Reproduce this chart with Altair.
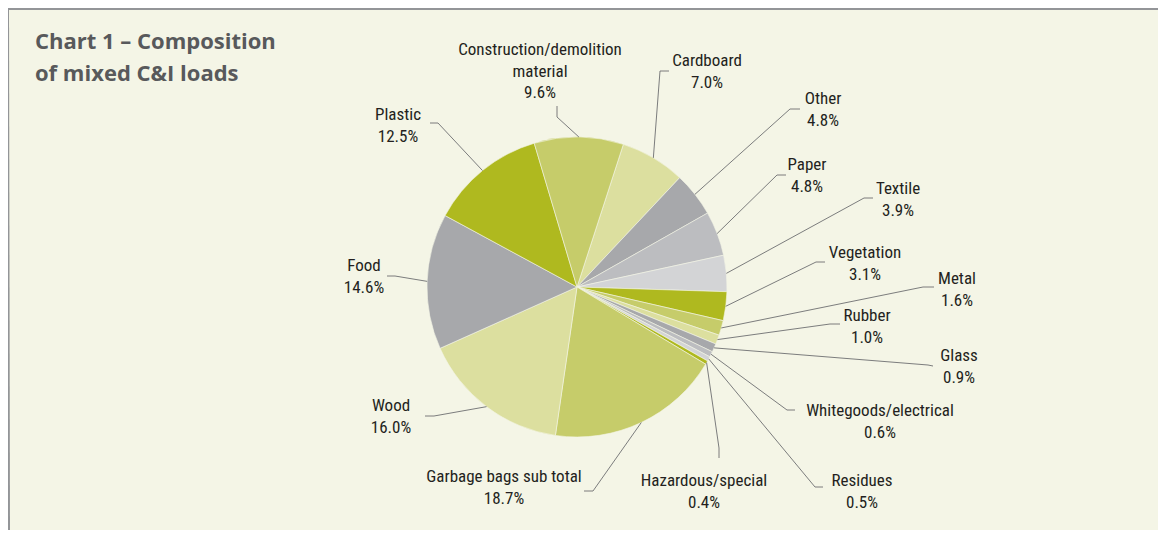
import math
import altair as alt
import pandas as pd

# ---- data ----
names = ["Cardboard", "Other", "Paper", "Textile", "Vegetation", "Metal", "Rubber",
         "Glass", "Whitegoods/electrical", "Residues", "Hazardous/special",
         "Garbage bags sub total", "Wood", "Food", "Plastic",
         "Construction/demolition material"]
values = [7.0, 4.8, 4.8, 3.9, 3.1, 1.6, 1.0, 0.9, 0.6, 0.5, 0.4, 18.7, 16.0, 14.6, 12.5, 9.6]
label_text = [["Cardboard"], ["Other"], ["Paper"], ["Textile"], ["Vegetation"], ["Metal"],
              ["Rubber"], ["Glass"], ["Whitegoods/electrical"], ["Residues"],
              ["Hazardous/special"], ["Garbage bags sub total"], ["Wood"], ["Food"],
              ["Plastic"], ["Construction/demolition", "material"]]
title_lines = ["Chart 1 \u2013 Composition", "of mixed C&I loads"]

# ---- styles / layout ----
colors = ["#dcdf9f", "#a7a8ab", "#bcbdc0", "#d3d4d6", "#afb91f", "#c6cc6a", "#dcdf9f",
          "#a7a8ab", "#bcbdc0", "#d3d4d6", "#afb91f", "#c6cc6a", "#dcdf9f", "#a7a8ab",
          "#afb91f", "#c6cc6a"]
label_x = [707, 823, 807, 898, 865, 957, 867, 959, 880, 862, 704, 504, 391, 364, 398, 540]
label_y = [61, 99, 165, 189, 253, 279, 316, 356, 411, 481, 481, 477, 406, 266, 115, 50]
elbow_x = [660, 790, 777, 864, 816, 923, 830, 928, 787, 815, 719, 593, 434, 395, 438, 557]
elbow_y = [71, 109, 175, 198, 262, 287, 324, 365, 410, 487, 448, 491, 416, 276, 123, 117]
end_x = [669, 800, 786, 873, 825, 934, 840, 933, 795, 823, 719, 584, 425, 387, 430, 557]
end_y = [71, 109, 175, 198, 262, 287, 324, 366, 410, 487, 458, 491, 416, 276, 123, 106]
CX, CY, R = 577, 287, 150
START_DEG = 18
LINE_H = 21.5
BG = "#f4f5e6"
FONT = "Liberation Sans Narrow, Roboto Condensed, Arial Narrow, sans-serif"

W, H = 1150, 522
xs = alt.Scale(domain=[8, 8 + W], nice=False, zero=False)
ys = alt.Scale(domain=[8, 8 + H], nice=False, zero=False, reverse=True)

# ---- slices ----
rows = []
cum = 0.0
for n, v, c in zip(names, values, colors):
    a0 = math.radians(START_DEG) + cum / 100 * 2 * math.pi
    cum += v
    a1 = math.radians(START_DEG) + cum / 100 * 2 * math.pi
    rows.append({"name": n, "value": v, "color": c, "a0": a0, "a1": a1, "mid": (a0 + a1) / 2})
slices = pd.DataFrame(rows)

pie = alt.Chart(slices).mark_arc(radius=R, stroke=BG, strokeWidth=0.6).encode(
    x=alt.X(datum=CX, type="quantitative", scale=xs, axis=None),
    y=alt.Y(datum=CY, type="quantitative", scale=ys, axis=None),
    theta=alt.Theta("a0:Q", scale=None),
    theta2="a1:Q",
    color=alt.Color("color:N", scale=None),
)

# ---- leader lines ----
lrows = []
for i, r in slices.iterrows():
    px = CX + R * math.sin(r["mid"])
    py = CY - R * math.cos(r["mid"])
    lrows += [
        {"name": r["name"], "k": 0, "x": px, "y": py},
        {"name": r["name"], "k": 1, "x": elbow_x[i], "y": elbow_y[i]},
        {"name": r["name"], "k": 2, "x": end_x[i], "y": end_y[i]},
    ]
leaders = alt.Chart(pd.DataFrame(lrows)).mark_line(color="#6d6e71", strokeWidth=0.9).encode(
    x=alt.X("x:Q", scale=xs, axis=None),
    y=alt.Y("y:Q", scale=ys, axis=None),
    detail="name:N",
    order="k:Q",
)

# ---- labels ----
trows = []
for i, v in enumerate(values):
    lines = label_text[i] + [f"{v:.1f}%"]
    for j, t in enumerate(lines):
        trows.append({"t": t, "x": label_x[i], "y": label_y[i] + j * LINE_H})
labels = alt.Chart(pd.DataFrame(trows)).mark_text(
    font=FONT, fontSize=17, color="#231f20", align="center", baseline="middle"
).encode(
    x=alt.X("x:Q", scale=xs, axis=None),
    y=alt.Y("y:Q", scale=ys, axis=None),
    text="t:N",
)

# ---- title ----
title_df = pd.DataFrame({"t": title_lines, "x": [35, 35], "y": [42, 74]})
title = alt.Chart(title_df).mark_text(
    font="Open Sans", fontSize=22, fontWeight="bold", color="#58595b",
    align="left", baseline="middle"
).encode(
    x=alt.X("x:Q", scale=xs, axis=None),
    y=alt.Y("y:Q", scale=ys, axis=None),
    text="t:N",
)

# ---- frame (top and left rules) ----
frame_df = pd.DataFrame({"x": [8, 8], "y": [9, 9], "x2": [8 + W, 9], "y2": [9, 8 + H]})
frame = alt.Chart(frame_df).mark_rule(color="#939598", strokeWidth=2).encode(
    x=alt.X("x:Q", scale=xs, axis=None),
    y=alt.Y("y:Q", scale=ys, axis=None),
    x2="x2:Q",
    y2="y2:Q",
)

chart = alt.layer(pie, leaders, labels, title, frame).properties(
    width=W, height=H, autosize=alt.AutoSizeParams(type="none"), padding=0,
    background=BG,
).configure_view(stroke=None, fill=BG)

chart.save("out.html", embed_options={"renderer": "svg", "actions": False})
